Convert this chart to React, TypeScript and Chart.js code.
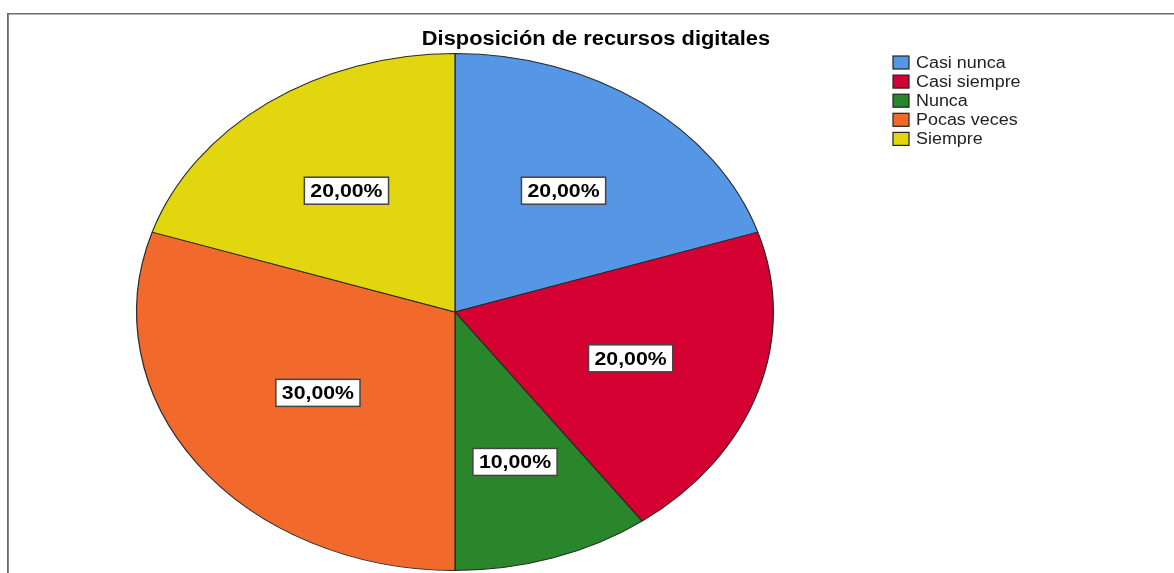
import React, { useEffect, useRef } from "react";
import { Chart, registerables } from "chart.js";

Chart.register(...registerables);

const TITLE = "Disposición de recursos digitales";
const CATEGORIES = ["Casi nunca", "Casi siempre", "Nunca", "Pocas veces", "Siempre"];
const PERCENTS = [20, 20, 10, 30, 20];
const COLORS = ["#5596E5", "#D50032", "#2A862A", "#F26A2B", "#E2D70F"];

const SX = 319 / 259; // horizontal stretch of the pie (ellipse)
const TS = 1.12; // horizontal stretch of text
const FONT = '"Liberation Sans", Arial, sans-serif';

function stretchedText(ctx: CanvasRenderingContext2D, text: string, x: number, y: number, align: CanvasTextAlign) {
  ctx.save();
  ctx.translate(x, y);
  ctx.scale(TS, 1);
  ctx.textAlign = align;
  ctx.textBaseline = "middle";
  ctx.fillText(text, 0, 0);
  ctx.restore();
}

const ellipsePlugin = {
  id: "ellipse",
  beforeDatasetsDraw(chart: any) {
    const meta = chart.getDatasetMeta(0);
    const arc = meta.data[0];
    if (!arc) return;
    const ctx = chart.ctx;
    ctx.save();
    ctx.translate(arc.x, arc.y);
    ctx.scale(SX, 1);
    ctx.translate(-arc.x, -arc.y);
  },
  afterDatasetsDraw(chart: any) {
    chart.ctx.restore();
  },
};

const decorPlugin = {
  id: "decor",
  afterDraw(chart: any) {
    const ctx: CanvasRenderingContext2D = chart.ctx;
    const w = chart.width;
    const h = chart.height;
    // frame
    ctx.save();
    ctx.fillStyle = "#6a6a6a";
    ctx.fillRect(7, 13, w - 7, 1.5);
    ctx.fillRect(7, 13, 1.8, h - 13);
    ctx.restore();

    // title
    ctx.save();
    ctx.fillStyle = "#000";
    ctx.font = `bold 19.5px ${FONT}`;
    stretchedText(ctx, TITLE, 596, 40, "center");
    ctx.restore();

    // slice labels, placed near each sector's centroid
    const meta = chart.getDatasetMeta(0);
    const data = chart.data.datasets[0].data as number[];
    const total = data.reduce((a, b) => a + b, 0);
    ctx.save();
    ctx.font = `bold 19px ${FONT}`;
    meta.data.forEach((arc: any, i: number) => {
      const mid = (arc.startAngle + arc.endAngle) / 2;
      const half = (arc.endAngle - arc.startAngle) / 2;
      const frac = ((2 * Math.sin(half)) / (3 * half)) * 0.93;
      const r = arc.outerRadius * frac;
      const px = arc.x + Math.cos(mid) * r * SX;
      const py = arc.y + Math.sin(mid) * r;
      const txt = ((data[i] / total) * 100).toFixed(2).replace(".", ",") + "%";
      const tw = ctx.measureText(txt).width * TS;
      const bw = tw + 12;
      const bh = 27;
      ctx.fillStyle = "#ffffff";
      ctx.fillRect(px - bw / 2, py - bh / 2, bw, bh);
      ctx.strokeStyle = "#444";
      ctx.lineWidth = 1.5;
      ctx.strokeRect(px - bw / 2, py - bh / 2, bw, bh);
      ctx.fillStyle = "#000";
      stretchedText(ctx, txt, px, py + 1, "center");
    });
    ctx.restore();

    // legend
    const labels = chart.data.labels as string[];
    const colors = chart.data.datasets[0].backgroundColor as string[];
    ctx.save();
    ctx.font = `16px ${FONT}`;
    labels.forEach((lab, i) => {
      const cy = 62.5 + i * 19.1;
      ctx.fillStyle = colors[i];
      ctx.fillRect(893, cy - 6.5, 16, 13);
      ctx.strokeStyle = "#222";
      ctx.lineWidth = 1.2;
      ctx.strokeRect(893, cy - 6.5, 16, 13);
      ctx.fillStyle = "#222";
      stretchedText(ctx, lab, 916, cy + 1, "left");
    });
    ctx.restore();
  },
};

export default function App() {
  const ref = useRef<HTMLCanvasElement | null>(null);

  useEffect(() => {
    if (!ref.current) return;
    const chart = new Chart(ref.current, {
      type: "pie",
      data: {
        labels: CATEGORIES,
        datasets: [
          {
            data: PERCENTS,
            backgroundColor: COLORS,
            borderColor: "#2a2a2a",
            borderWidth: 1,
          },
        ],
      },
      options: {
        animation: false,
        responsive: true,
        maintainAspectRatio: false,
        layout: { padding: { left: 196, right: 460, top: 53, bottom: 2 } },
        plugins: {
          legend: { display: false },
          title: { display: false },
          tooltip: { enabled: false },
        },
      },
      plugins: [ellipsePlugin, decorPlugin],
    });
    return () => chart.destroy();
  }, []);

  return (
    <div style={{ position: "fixed", left: 0, top: 0, width: 1174, height: 573, background: "#fff" }}>
      <canvas ref={ref} />
    </div>
  );
}
